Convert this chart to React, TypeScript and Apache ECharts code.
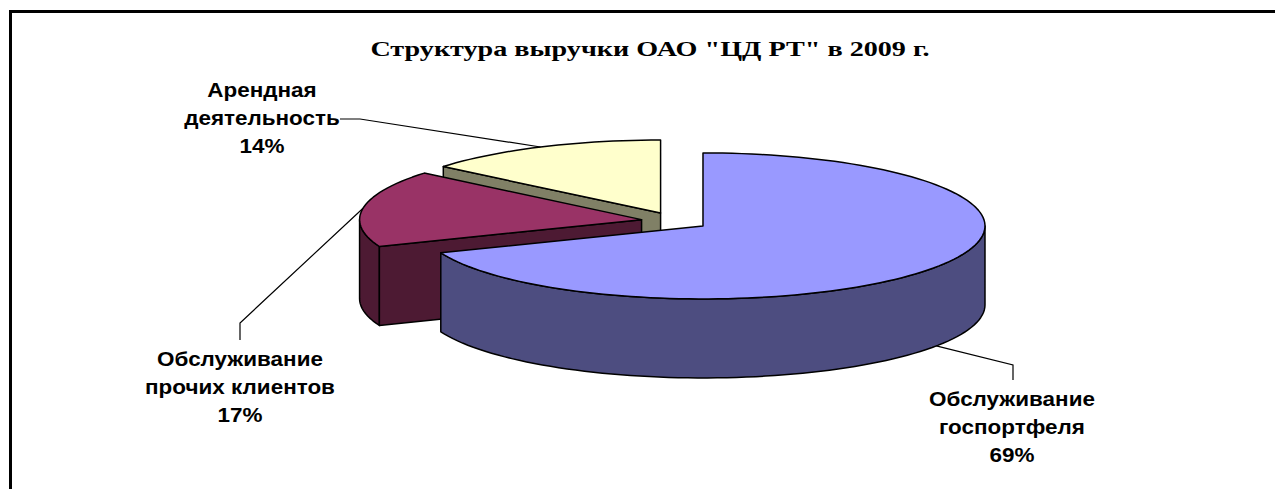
import React, { useEffect, useRef } from "react";
import * as echarts from "echarts";

const TITLE = 'Структура выручки ОАО "ЦД РТ" в 2009 г.';
const categories = ["Обслуживание\nгоспортфеля", "Обслуживание\nпрочих клиентов", "Арендная\nдеятельность"];
const values = [69, 17, 14];
const topColors = ["#9999FF", "#993366", "#FFFFCC"];
const sideColors = ["#4D4D80", "#4D1A33", "#808066"];

// layout
const CX = 675, CY = 221, RX = 282, RY = 73, DEPTH = 79, EXPLODE = 0.12;
const LABELS = [
  { x: 1012, y: 427, elbow: [[1013, 365], [1013, 380]] },
  { x: 240, y: 387, elbow: [[240, 323], [240, 340]] },
  { x: 262, y: 118, elbow: [[360, 119], [340, 119]] },
];

export default function App() {
  const ref = useRef<HTMLDivElement>(null);
  useEffect(() => {
    const chart = echarts.init(ref.current!, undefined, { renderer: "svg" });
    const total = values.reduce((a, b) => a + b, 0);
    const starts: number[] = [];
    let acc = 0;
    values.forEach((v) => { starts.push((acc / total) * Math.PI * 2); acc += v; });

    const renderItem = (params: any, api: any) => {
      const i = params.dataIndex;
      const v = api.value(0);
      const s = starts[i];
      const e = s + (v / total) * Math.PI * 2;
      const m = (s + e) / 2;
      const cx = CX + EXPLODE * RX * Math.sin(m);
      const cy = CY - EXPLODE * RY * Math.cos(m);
      const P = (t: number, dz = 0) => [cx + RX * Math.sin(t), cy - RY * Math.cos(t) + dz];
      const arc = (a: number, b: number, dz = 0) => {
        const n = Math.max(2, Math.ceil(((b - a) / (Math.PI * 2)) * 180));
        const pts: number[][] = [];
        for (let k = 0; k <= n; k++) pts.push(P(a + ((b - a) * k) / n, dz));
        return pts;
      };
      const base = Math.round((1 - Math.cos(m)) * 100) * 4;
      const line = { stroke: "#000", lineWidth: 1.5, lineJoin: "round" };
      const children: any[] = [];
      // outer wall
      const wa = Math.max(s, Math.PI / 2), wb = Math.min(e, (Math.PI * 3) / 2);
      if (wb > wa) {
        const pts = arc(wa, wb).concat(arc(wa, wb, DEPTH).reverse());
        children.push({ type: "polygon", z2: base, shape: { points: pts }, style: { fill: sideColors[i], ...line } });
      }
      // cut faces
      const cutFace = (t: number) => {
        const p = P(t);
        return [[cx, cy], p, [p[0], p[1] + DEPTH], [cx, cy + DEPTH]];
      };
      if (Math.sin(s) < -1e-6) children.push({ type: "polygon", z2: base + 1, shape: { points: cutFace(s) }, style: { fill: sideColors[i], ...line } });
      if (Math.sin(e) > 1e-6) children.push({ type: "polygon", z2: base + 1, shape: { points: cutFace(e) }, style: { fill: sideColors[i], ...line } });
      // top face
      children.push({ type: "polygon", z2: base + 2, shape: { points: [[cx, cy]].concat(arc(s, e)) }, style: { fill: topColors[i], ...line } });
      // leader line + label
      const anchor = Math.cos(m) < 0 ? P(m, DEPTH) : P(m);
      const L = LABELS[i];
      children.push({ type: "polyline", z2: 2000, shape: { points: [anchor].concat(L.elbow) }, style: { stroke: "#000", lineWidth: 1.2, fill: null } });
      children.push({
        type: "text", z2: 2001, x: L.x, y: L.y, scaleX: 1.07,
        style: {
          text: categories[i] + "\n" + Math.round((v / total) * 100) + "%",
          textAlign: "center", textVerticalAlign: "middle",
          fontFamily: "Liberation Sans, Arial, sans-serif", fontWeight: "bold", fontSize: 21, lineHeight: 28,
          fill: "#000",
        },
      });
      return { type: "group", children };
    };

    chart.setOption({
      animation: false,
      backgroundColor: "#fff",
      graphic: [
        { type: "rect", shape: { x: 10.5, y: 11.5, width: 1400, height: 700 }, style: { fill: "none", stroke: "#000", lineWidth: 3 }, silent: true },
        {
          type: "text", x: 650, y: 48, scaleX: 1.28, silent: true,
          style: {
            text: TITLE, textAlign: "center", textVerticalAlign: "middle",
            fontFamily: "Liberation Serif, Times New Roman, serif", fontWeight: "bold", fontSize: 22, fill: "#000",
          },
        },
      ],
      series: [
        {
          type: "custom", coordinateSystem: "none",
          data: values.map((v, i) => ({ value: [v], name: categories[i] })),
          renderItem,
        },
      ],
    });
    return () => chart.dispose();
  }, []);
  return <div ref={ref} style={{ position: "fixed", left: 0, top: 0, width: 1275, height: 489 }} />;
}
